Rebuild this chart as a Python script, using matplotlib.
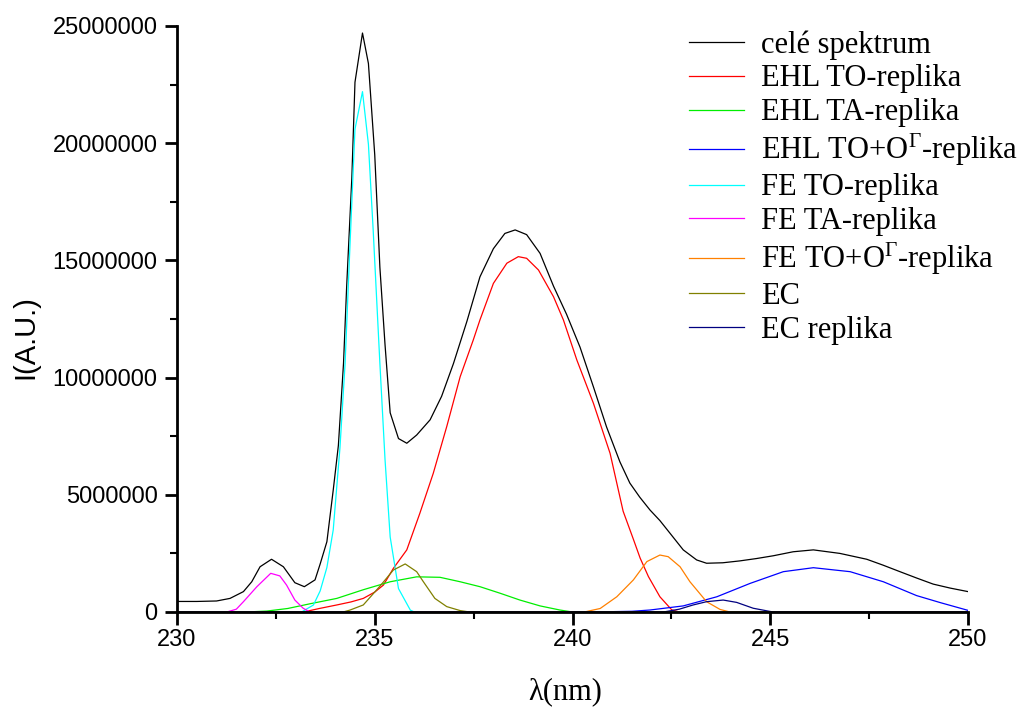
import numpy as np
import matplotlib
matplotlib.use('Agg')
import matplotlib.pyplot as plt
from matplotlib.ticker import MultipleLocator, ScalarFormatter

plt.rcParams['mathtext.fontset'] = 'custom'
plt.rcParams['mathtext.rm'] = 'Liberation Serif'
plt.rcParams['mathtext.it'] = 'Liberation Serif:italic'

# Data (intenzita v milionech)
cele_x = [230.0, 230.5, 231.0, 231.34, 231.68, 231.89, 232.1, 232.39, 232.69, 232.98, 233.22,
          233.49, 233.62, 233.79, 233.95, 234.08, 234.21, 234.29, 234.42, 234.5, 234.69, 234.84,
          235.0, 235.13, 235.26, 235.39, 235.6, 235.81, 236.06, 236.4, 236.69, 236.99, 237.33,
          237.66, 238.0, 238.29, 238.55, 238.84, 239.18, 239.52, 239.85, 240.19, 240.53, 240.86,
          241.2, 241.45, 241.7, 241.96, 242.21, 242.47, 242.8, 243.14, 243.39, 243.8, 244.23,
          244.65, 245.08, 245.58, 246.09, 246.76, 247.44, 247.85, 248.28, 248.7, 249.12, 249.55, 250.0]
cele_y = [0.45, 0.45, 0.47, 0.58, 0.87, 1.29, 1.93, 2.25, 1.93, 1.25, 1.08,
          1.37, 2.05, 3.0, 5.2, 7.1, 10.6, 13.9, 18.5, 22.6, 24.7, 23.4,
          19.5, 14.7, 11.4, 8.5, 7.4, 7.2, 7.55, 8.2, 9.2, 10.6, 12.4,
          14.3, 15.5, 16.15, 16.3, 16.1, 15.3, 13.9, 12.7, 11.3, 9.6, 7.9,
          6.4, 5.5, 4.9, 4.35, 3.9, 3.35, 2.65, 2.22, 2.08, 2.1, 2.18,
          2.28, 2.4, 2.57, 2.65, 2.5, 2.25, 2.0, 1.72, 1.45, 1.19, 1.02, 0.87]

ehl_to_x = [230.0, 233.2, 233.6, 234.04, 234.4, 234.71, 235.0, 235.22, 235.47, 235.81, 236.14,
            236.48, 236.82, 237.16, 237.49, 237.66, 238.0, 238.34, 238.63, 238.84, 239.14,
            239.52, 239.77, 240.11, 240.53, 240.95, 241.28, 241.54, 241.71, 241.92, 242.21,
            242.51, 242.7, 250.0]
ehl_to_y = [0, 0, 0.15, 0.3, 0.43, 0.58, 0.85, 1.15, 1.86, 2.65, 4.21,
            5.92, 7.91, 10.04, 11.6, 12.46, 14.02, 14.88, 15.16, 15.09, 14.59,
            13.45, 12.46, 10.75, 8.9, 6.77, 4.3, 3.1, 2.3, 1.51, 0.65,
            0.09, 0, 0]

ehl_ta_x = [230.0, 231.76, 232.27, 232.8, 233.36, 234.04, 234.71, 235.39, 236.06, 236.65,
            237.16, 237.66, 238.17, 238.67, 239.18, 239.68, 240.0, 250.0]
ehl_ta_y = [0, 0, 0.04, 0.15, 0.35, 0.58, 0.95, 1.29, 1.5, 1.48,
            1.29, 1.08, 0.8, 0.51, 0.26, 0.085, 0, 0]

ehl_too_x = [230.0, 240.5, 241.5, 241.96, 242.8, 243.65, 244.49, 245.33, 246.09, 247.02,
             247.86, 248.7, 249.3, 250.0]
ehl_too_y = [0, 0, 0.03, 0.085, 0.26, 0.65, 1.22, 1.72, 1.89, 1.72,
             1.29, 0.7, 0.4, 0.07]

fe_to_x = [230.0, 233.15, 233.45, 233.62, 233.79, 233.95, 234.12, 234.25, 234.37, 234.5,
           234.69, 234.84, 234.96, 235.13, 235.26, 235.39, 235.6, 235.9, 236.0, 250.0]
fe_to_y = [0, 0, 0.3, 0.9, 1.9, 3.5, 7.0, 10.6, 15.5, 20.6,
           22.2, 19.95, 16.3, 10.6, 6.5, 3.2, 1.0, 0.08, 0, 0]

fe_ta_x = [230.0, 231.26, 231.5, 231.68, 232.02, 232.37, 232.6, 232.77, 232.98, 233.19, 233.36, 250.0]
fe_ta_y = [0, 0, 0.12, 0.44, 1.08, 1.65, 1.54, 1.15, 0.51, 0.16, 0, 0]

fe_too_x = [230.0, 240.3, 240.7, 241.12, 241.54, 241.88, 242.21, 242.42, 242.72, 242.97,
            243.39, 243.73, 243.98, 250.0]
fe_too_y = [0, 0, 0.15, 0.65, 1.37, 2.15, 2.43, 2.36, 1.93, 1.29,
            0.44, 0.11, 0, 0]

ec_x = [230.0, 234.2, 234.37, 234.71, 235.13, 235.47, 235.77, 236.06, 236.23, 236.52,
        236.82, 237.16, 237.4, 250.0]
ec_y = [0, 0, 0.08, 0.3, 1.1, 1.79, 2.05, 1.72, 1.29, 0.58,
        0.23, 0.06, 0, 0]

ec_rep_x = [230.0, 242.3, 242.7, 243.05, 243.39, 243.81, 244.15, 244.57, 245.07, 250.0]
ec_rep_y = [0, 0, 0.12, 0.30, 0.44, 0.51, 0.41, 0.16, 0, 0]

serie = [
    (cele_x, cele_y, 'black', 'celé spektrum'),
    (ehl_to_x, ehl_to_y, 'red', 'EHL TO-replika'),
    (ehl_ta_x, ehl_ta_y, '#00ee00', 'EHL TA-replika'),
    (ehl_too_x, ehl_too_y, '#0000ff', r'EHL TO+O$^{\Gamma}$-replika'),
    (fe_to_x, fe_to_y, 'cyan', 'FE TO-replika'),
    (fe_ta_x, fe_ta_y, 'magenta', 'FE TA-replika'),
    (fe_too_x, fe_too_y, '#ff8000', r'FE TO+O$^{\Gamma}$-replika'),
    (ec_x, ec_y, '#808000', 'EC'),
    (ec_rep_x, ec_rep_y, '#000080', 'EC replika'),
]

fig = plt.figure(figsize=(10.22, 7.07), dpi=100)
ax = fig.add_axes([177/1022, 1 - 612/707, (968 - 177)/1022, (612 - 26)/707])

for x, y, c, lab in serie:
    ax.plot(x, np.array(y) * 1e6, color=c, lw=0.9, label=lab)

ax.set_xlim(230, 250)
ax.set_ylim(0, 25000000)
ax.xaxis.set_major_locator(MultipleLocator(5))
ax.xaxis.set_minor_locator(MultipleLocator(2.5))
ax.yaxis.set_major_locator(MultipleLocator(5000000))
ax.yaxis.set_minor_locator(MultipleLocator(2500000))
fmt = ScalarFormatter(useOffset=False)
fmt.set_scientific(False)
ax.yaxis.set_major_formatter(fmt)

for s in ['top', 'right']:
    ax.spines[s].set_visible(False)
for s in ['left', 'bottom']:
    ax.spines[s].set_linewidth(2)

ax.tick_params(which='major', length=9, width=2, direction='out', labelsize=17)
ax.tick_params(axis='y', which='major', pad=5)
ax.tick_params(which='minor', length=5, width=1.5, direction='out')
for lbl in ax.get_xticklabels() + ax.get_yticklabels():
    lbl.set_family('Liberation Sans')

ax.set_ylabel('I(A.U.)', family='Liberation Sans', fontsize=21)
ax.yaxis.set_label_coords(-0.1745, 0.469)
ax.set_xlabel('λ(nm)', family='Liberation Serif', fontsize=22)
ax.xaxis.set_label_coords(0.4905, -0.112)

fig.legend(loc='upper left', bbox_to_anchor=(689/1022, 1 - 30/707), frameon=False,
           prop={'family': 'Liberation Serif', 'size': 22},
           handlelength=1.8, handletextpad=0.55, labelspacing=0.16, borderpad=0,
           borderaxespad=0)

fig.savefig('out.png', dpi=100)
